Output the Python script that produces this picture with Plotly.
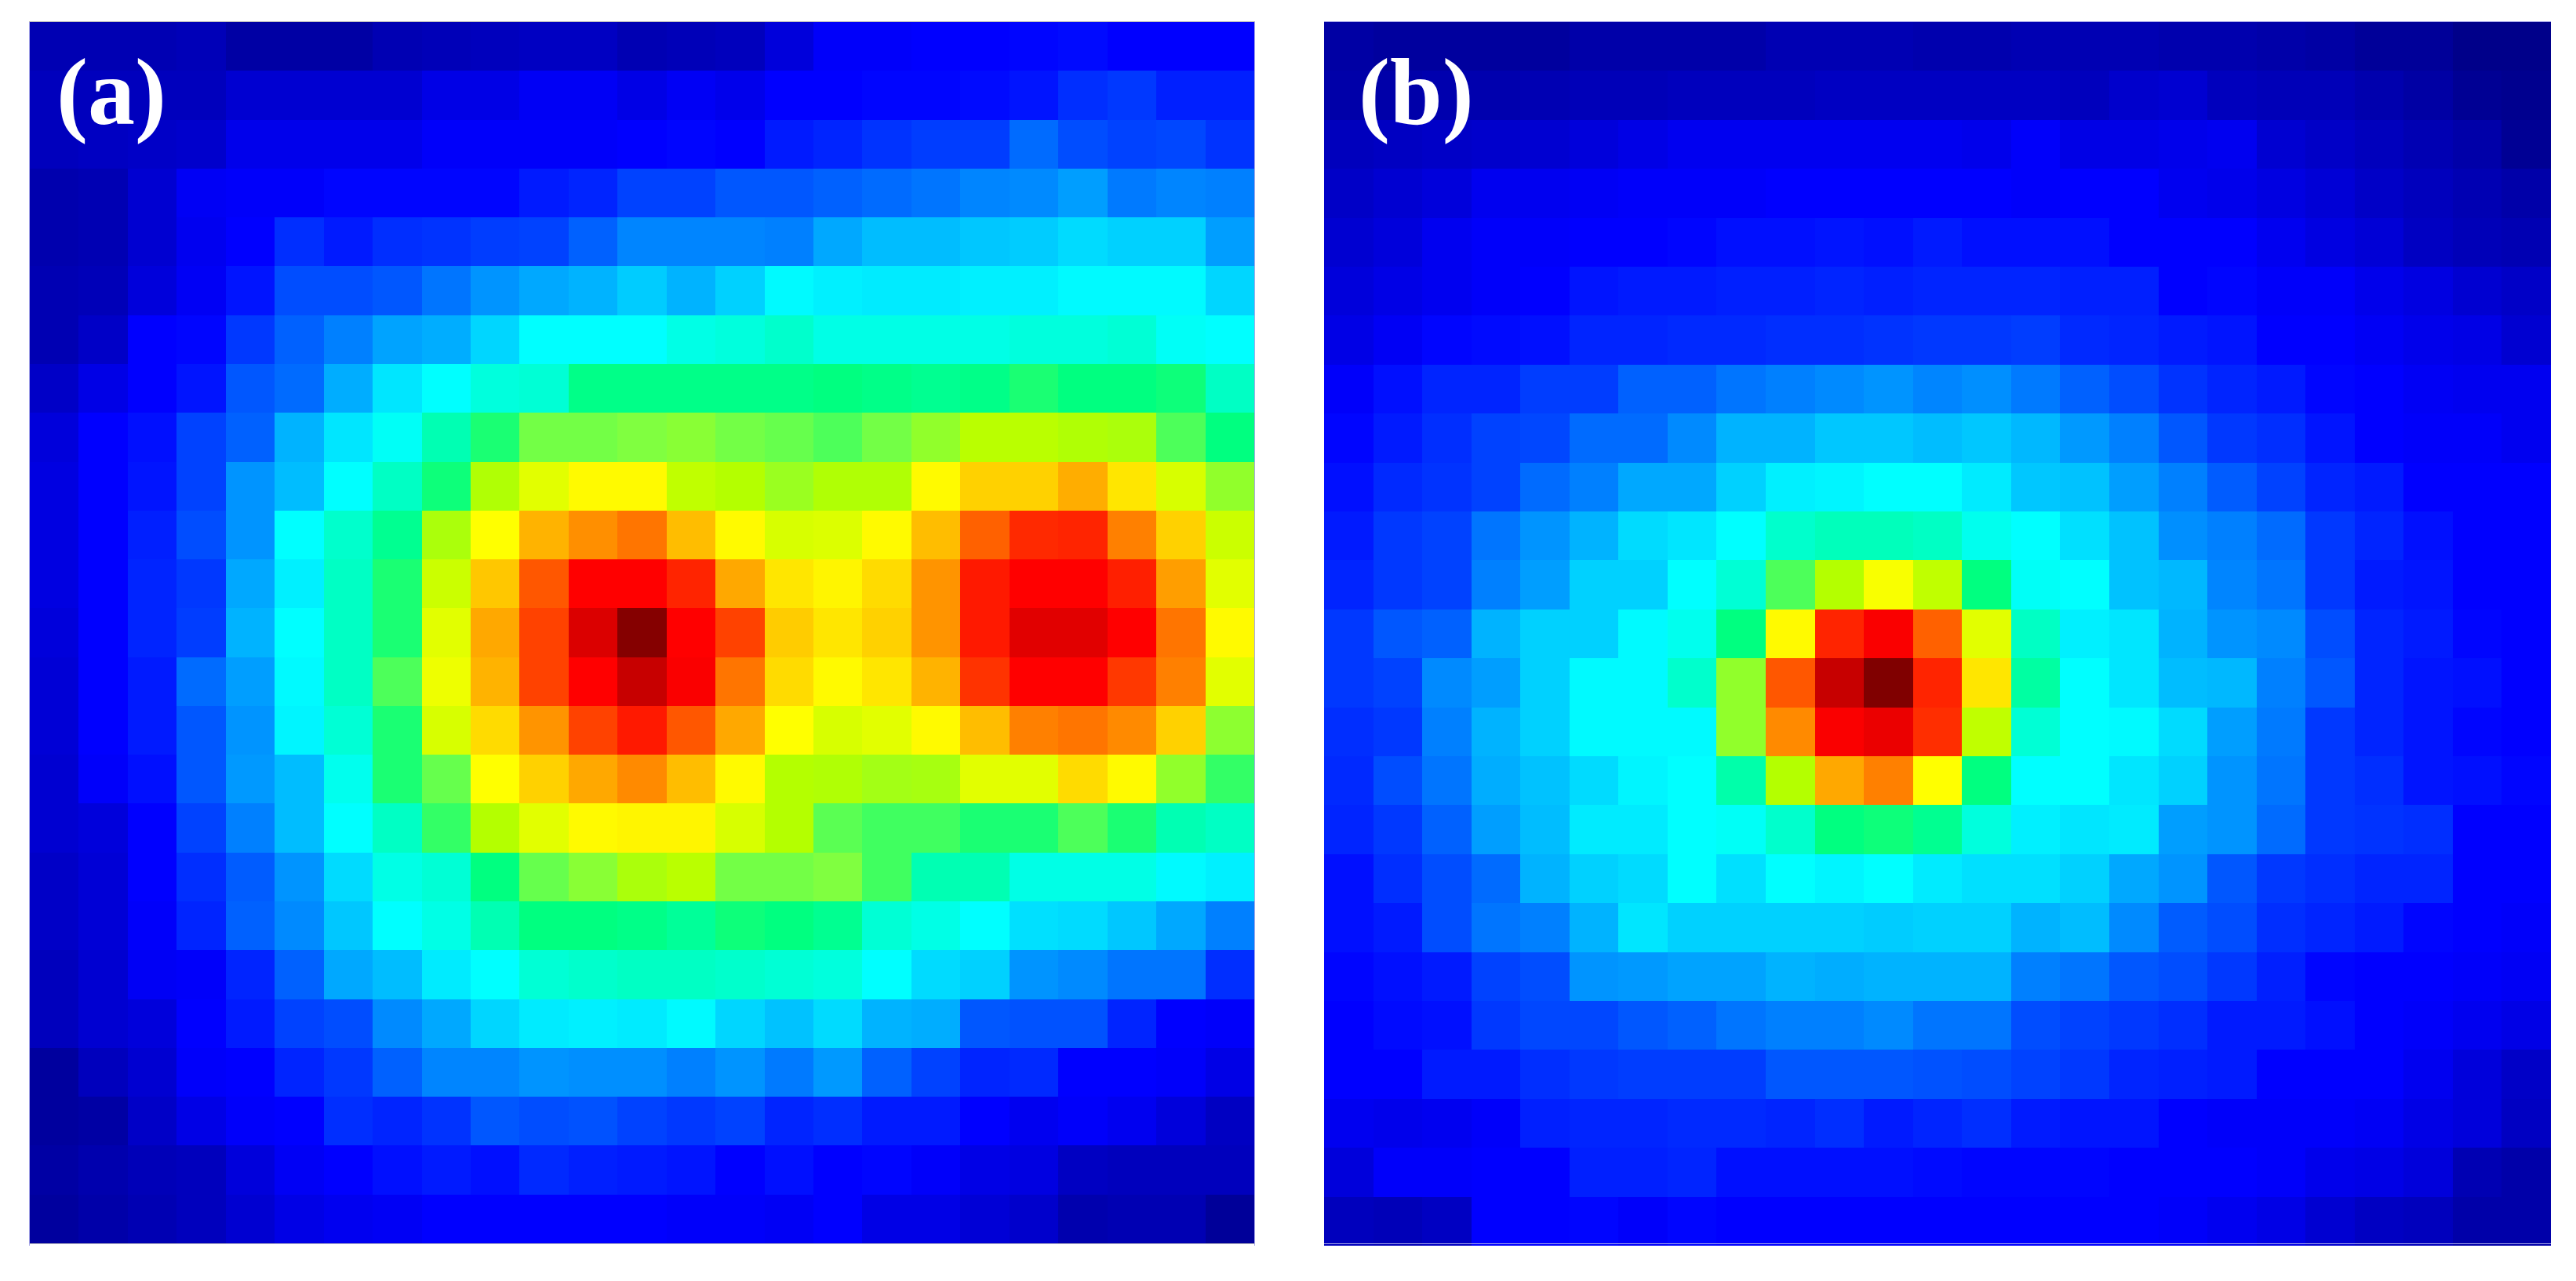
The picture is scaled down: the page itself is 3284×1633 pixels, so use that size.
import plotly.graph_objects as go

WIDTH, HEIGHT = 3284, 1633

# intensity, 0-100 on the jet-like scale, top row first
PANEL_A = [
    [5, 5, 5, 5.5, 3.5, 3.5, 3.5, 5, 5.5, 6, 6.5, 6.5, 5, 5.5, 6, 9, 12, 12, 12.5, 12.5, 13, 13.5, 12.5, 12.5, 12.5],
    [6, 6, 6, 6, 8, 8, 8, 8, 10, 10, 11.5, 11.5, 10, 11.5, 10.5, 12.5, 12.5, 13, 13, 13.5, 14.5, 17, 18, 15.5, 15.5],
    [6, 6.5, 7, 7.5, 10.5, 10.5, 10.5, 10.5, 12, 12, 12, 12, 12.5, 13, 12.5, 15, 16, 17.5, 18.5, 18.5, 23, 20, 19, 19.5, 17.5],
    [4.5, 5, 8, 11.5, 12, 12, 13, 13, 13, 13, 15, 16, 19, 19, 21, 21, 22, 23, 24, 25.5, 26, 28, 24.5, 25.5, 25],
    [4.5, 5, 8, 11, 12.5, 17, 15, 17, 17.5, 18.5, 19, 22, 25.5, 25.5, 25.5, 25, 29, 31, 31, 32, 32.5, 34, 33, 33, 28],
    [5, 5.5, 9, 11.5, 14.5, 20, 20, 21, 24, 27, 29, 30, 32.5, 30, 33, 37, 36, 35.5, 35.5, 36, 36, 37, 37, 37, 33.5],
    [5, 7, 12.5, 13, 18, 22, 25, 28.5, 29.5, 33.5, 37.5, 37.5, 37.5, 39, 39.5, 40.5, 39, 39, 39, 39, 39.5, 39.5, 40, 38, 37.5],
    [7, 10, 12.5, 14.5, 21, 23, 29.5, 35, 37.5, 39.5, 40, 44.5, 44.5, 44.5, 44.5, 44.5, 45, 44.5, 44, 44.5, 46, 45, 45, 45.5, 41],
    [9, 12.5, 14, 19, 22, 30, 35, 38, 42, 46, 49.5, 49.5, 50, 51, 49.5, 49, 48, 49.5, 52, 56.5, 56.5, 55.5, 55, 48, 45],
    [9.5, 12.5, 14.5, 19, 27, 31, 37.5, 41, 45.5, 55.5, 60, 63, 63, 57, 56, 53, 55.5, 55.5, 63, 67, 67, 70.5, 65, 59, 52],
    [9.5, 12.5, 15.5, 20, 27, 37.5, 40.5, 44, 55, 62.5, 70, 73.5, 76, 69, 63, 59, 59.5, 63, 69, 78, 83.5, 84, 75, 67, 58],
    [9.5, 12.5, 16, 18, 29, 36, 41, 46, 58, 68, 79, 87.5, 87.5, 84, 71, 65, 63.5, 66, 73, 85, 87.5, 87.5, 84.5, 72, 60],
    [9, 12.5, 16, 18.5, 30, 37.5, 41, 46, 60, 71, 81, 91, 99.5, 87.5, 81, 67.5, 65, 67, 73, 85, 90.5, 90.5, 87.5, 76, 63],
    [8.5, 12.5, 15, 23, 28, 37, 41, 48, 61, 70, 81, 87.5, 93, 88, 76, 66, 63, 65, 70, 82.5, 87.5, 87.5, 82, 75, 60],
    [8.5, 12.5, 15, 21, 27, 36.5, 40, 46, 59, 66, 73, 81, 85, 79, 71, 62.5, 59, 60, 63, 69, 75, 76, 74, 67, 51.5],
    [8, 12, 14, 21, 27.5, 31, 38.5, 46, 49, 62.5, 67, 71, 74, 69, 63, 56, 55.5, 54, 54.5, 60, 60, 66, 63, 52, 47],
    [8, 9, 12.5, 19, 25, 31, 37.5, 41, 47, 56, 60, 63, 63.5, 63.5, 59, 56, 48.5, 47.5, 47.5, 46, 46, 48, 46, 42, 41],
    [7, 8.5, 12.5, 17, 21.5, 27, 34, 39, 40, 45, 49, 51, 55, 56.5, 49.5, 49.5, 50, 47.5, 42, 42, 39, 39, 39, 37, 36],
    [7, 8.5, 12, 16, 22, 26, 32, 37.5, 39, 42, 45, 45, 44.5, 43.5, 45.5, 45, 44, 40, 39, 37.5, 34.5, 34, 32, 29, 25],
    [6, 8, 11.5, 12, 16, 22, 29, 31, 35.5, 37.5, 40, 40.5, 41, 41, 40.5, 40, 39.5, 37.5, 34, 33, 27, 26, 24, 24, 17],
    [6, 8, 9, 12.5, 15, 19, 20, 26, 29, 33.5, 35.5, 36, 35.5, 37, 33.5, 31.5, 34, 30, 29.5, 21, 20.5, 20.5, 16, 12.5, 12],
    [3, 6, 8, 12, 12.5, 16, 18, 22, 25.5, 25.5, 27, 26.5, 26.5, 25, 27, 24.5, 27.5, 22, 19, 16, 16.5, 12.5, 12.5, 12, 10],
    [3, 3.5, 7, 10, 12, 12.5, 17, 16, 17.5, 21, 20, 20.5, 19, 18, 19, 16, 17, 15, 15, 12.5, 11, 12, 11, 9, 6.5],
    [3.5, 4.5, 5.5, 6, 9, 11.5, 12.5, 14, 15, 14, 16.5, 15.5, 15, 14.5, 12.5, 14, 12.5, 13, 12, 10, 9.5, 6.5, 6, 6, 6],
    [3, 4, 5, 6, 8, 10, 11, 11.5, 12.5, 12.5, 12.5, 12.5, 12.5, 12, 12, 11.5, 12.5, 10, 10, 8.5, 7.5, 4.5, 5, 5, 2.5],
]

PANEL_B = [
    [3.5, 3, 3, 3, 3, 4, 4, 4, 4, 5, 5, 5, 4.5, 4.5, 5, 5, 5, 4.5, 4.5, 4, 3.5, 2.5, 2.5, 1, 1],
    [4, 4, 4.5, 4.5, 5, 5.5, 5.5, 6, 6, 6, 6.5, 6.5, 6.5, 6.5, 6.5, 6, 7.5, 8, 6, 5.5, 5.5, 4.5, 3.5, 2, 1.5],
    [6, 6.5, 7, 7.5, 8, 9, 10, 11, 11, 11, 11, 11, 11, 10.5, 12, 10, 10, 10.5, 11, 8, 7, 6, 5, 4, 2],
    [7, 8, 9, 11, 11, 11.5, 12, 12, 12, 12.5, 12.5, 12.5, 12.5, 12.5, 12, 12.5, 12.5, 11, 10.5, 9.5, 8.5, 7, 6, 5, 4],
    [8, 9, 11, 12, 12, 12.5, 12.5, 13, 14, 14, 14.5, 14, 15, 14, 14, 14, 12.5, 12.5, 12.5, 11, 9.5, 8.5, 6.5, 5.5, 5],
    [9, 10, 11, 12, 12.5, 14.5, 15, 15, 15.5, 15.5, 16, 15.5, 16, 16, 16, 15.5, 15.5, 12.5, 13, 12, 12, 10.5, 9.5, 8, 7],
    [10, 11.5, 13, 13.5, 14, 16, 16, 16.5, 16.5, 17, 17, 17.5, 18, 18, 18.5, 16.5, 16, 15, 14.5, 12.5, 12.5, 11.5, 10.5, 10, 8],
    [12, 14, 16, 16, 18.5, 18.5, 22, 22, 24, 25, 26, 27, 25.5, 26.5, 24.5, 22, 20, 17.5, 16, 15, 13, 12.5, 11.5, 11, 11],
    [13, 15, 17, 19, 19.5, 23, 23, 26, 30, 30, 32, 32, 31, 32, 30.5, 27.5, 25, 21, 18, 17, 14.5, 12.5, 12, 12, 11],
    [14, 16.5, 17.5, 19, 23, 25, 29, 29, 33, 36, 36.5, 37.5, 37.5, 35.5, 32, 31.5, 28, 25, 21.5, 19, 16, 15, 12.5, 12.5, 12.5],
    [15, 18, 19, 24, 27, 30, 34, 35, 37.5, 40.5, 41.5, 41.5, 41, 38.5, 37.5, 34.5, 31.5, 26.5, 25, 23, 18, 16, 14, 12.5, 12.5],
    [16, 18, 19, 25, 28, 33, 33, 37.5, 40, 48, 56, 62, 57, 45, 38, 37.5, 31.5, 30.5, 25.5, 24, 18, 15, 14.5, 12.5, 12.5],
    [18, 21, 22, 30, 33, 33, 37, 38.5, 45, 63, 84, 88, 78, 60, 41, 36, 35, 30, 27, 26, 20, 16, 15, 13, 12.5],
    [18, 19, 26, 28, 33, 37, 37, 40.5, 52, 79, 93, 100, 84, 65, 43, 37.5, 35, 31, 30.5, 25, 21, 16, 14.5, 14, 12.5],
    [17, 18, 25, 30, 33, 37, 37, 37, 52, 74, 88, 89.5, 83, 57, 40, 37.5, 37, 34, 28, 24.5, 18, 16, 14.5, 13, 12.5],
    [16.5, 20, 24, 29.5, 31.5, 34, 36.5, 37.5, 42.5, 56, 71, 75, 62.5, 45, 37.5, 37.5, 35, 33, 27, 24, 18, 17, 14.5, 14, 13],
    [16, 18, 22, 28, 31, 35.5, 35.5, 37.5, 38, 40.5, 45, 45.5, 44, 39.5, 36, 35, 35.5, 28, 27, 23, 18, 17.5, 17, 12.5, 12.5],
    [14, 17, 20, 23, 30, 33, 34, 37.5, 34.5, 37.5, 36.5, 37.5, 35.5, 34.5, 34.5, 33, 29, 27, 21, 18, 17, 16, 16, 12.5, 12.5],
    [14, 15, 20, 24, 25, 30, 35, 33, 33, 33, 33, 32.5, 33, 33, 30, 31, 26, 21.5, 20, 17, 16, 15, 13, 12.5, 12],
    [13, 14, 15, 19, 20, 27, 27.5, 28.5, 28.5, 30, 29.5, 30, 30, 30, 25, 24, 21, 20, 18, 15.5, 13, 12.5, 12.5, 12, 11.5],
    [12.5, 13.5, 14, 18, 19.5, 19.5, 21, 22, 24, 25, 25, 26, 24, 24, 20, 19, 18, 17, 15, 15, 14, 12.5, 12, 11, 10],
    [12.5, 12.5, 15, 15, 17, 18, 18.5, 18.5, 18.5, 21, 21, 21, 20.5, 20, 19, 18, 16, 15.5, 15, 12.5, 12.5, 12.5, 11, 9, 7],
    [11, 10.5, 11, 12, 15.5, 16, 16, 16.5, 16.5, 16, 17, 15, 16, 17, 15, 14.5, 14.5, 12.5, 12, 12, 12, 11.5, 10, 9, 6.5],
    [9, 12, 12, 12.5, 12.5, 15.5, 15.5, 16, 14, 14, 14, 14, 13.5, 13, 13, 13, 12.5, 12.5, 12.5, 12, 10.5, 10, 9, 5, 4],
    [6, 5.5, 6.5, 12.5, 12.5, 13, 12, 13, 12.5, 12.5, 12.5, 12.5, 12.5, 12.5, 12.5, 12.5, 12.5, 12, 11, 10, 8, 6.5, 6, 4, 4],
]

PANEL_LABELS = ["(a)", "(b)"]

# jet, but with the stronger greens the original colour map has
JET_SCALE = [
    [0.0, "#000080"],
    [0.125, "#0000ff"],
    [0.375, "#00ffff"],
    [0.45, "#00ff80"],
    [0.5, "#80ff40"],
    [0.56, "#b4ff00"],
    [0.625, "#ffff00"],
    [0.875, "#ff0000"],
    [1.0, "#800000"],
]


def _panel_axis(domain: list[float], color: str, **extra) -> dict:
    return {
        "domain": domain,
        "showticklabels": False,
        "ticks": "",
        "showgrid": False,
        "zeroline": False,
        "showline": True,
        "mirror": True,
        "linecolor": color,
        "linewidth": 1,
        **extra,
    }


def _heatmap(values: list[list[float]], xaxis: str, yaxis: str) -> go.Heatmap:
    return go.Heatmap(
        z=values,
        xaxis=xaxis,
        yaxis=yaxis,
        colorscale=JET_SCALE,
        zmin=0,
        zmax=100,
        showscale=False,
        xgap=0,
        ygap=0,
    )


def _panel_label(text: str, left: int) -> dict:
    return {
        "text": f"<b>{text}</b>",
        "xref": "paper",
        "yref": "paper",
        "x": left / WIDTH,
        "y": 1 - 117 / HEIGHT,
        "xanchor": "left",
        "yanchor": "middle",
        "showarrow": False,
        "font": {"family": "Liberation Serif, serif", "size": 120, "color": "#ffffff"},
    }


fig = go.Figure(data=[_heatmap(PANEL_A, "x", "y"), _heatmap(PANEL_B, "x2", "y2")])

fig.update_layout(
    width=WIDTH,
    height=HEIGHT,
    margin={"l": 0, "r": 0, "t": 0, "b": 0},
    paper_bgcolor="#ffffff",
    plot_bgcolor="#ffffff",
    xaxis=_panel_axis([38 / WIDTH, 1599 / WIDTH], "#c0c0c0"),
    yaxis=_panel_axis([1 - 1585 / HEIGHT, 1 - 28 / HEIGHT], "#c0c0c0", autorange="reversed"),
    xaxis2=_panel_axis([1688 / WIDTH, 3252 / WIDTH], "#a8a8e8"),
    yaxis2=_panel_axis([1 - 1588 / HEIGHT, 1 - 28 / HEIGHT], "#a8a8e8", autorange="reversed"),
    annotations=[_panel_label(PANEL_LABELS[0], 70), _panel_label(PANEL_LABELS[1], 1730)],
)

fig.write_html(
    "out.html",
    config={"displayModeBar": False},
    post_script="document.body.style.margin = '0';",
)
